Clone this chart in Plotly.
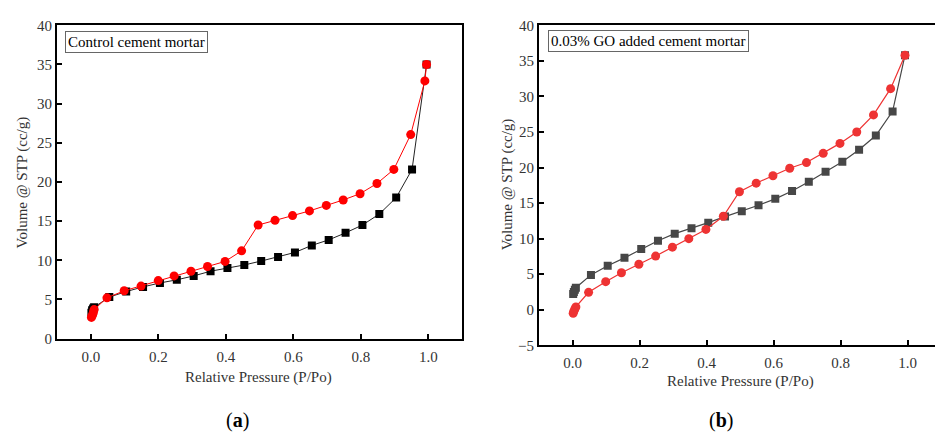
import plotly.graph_objects as go

W, H = 935, 441

# ---- data: panel (a) control cement mortar ----
xa_ads = [0.002, 0.004, 0.007, 0.010, 0.055, 0.105, 0.155, 0.205, 0.255, 0.305, 0.355, 0.405,
          0.455, 0.505, 0.555, 0.605, 0.655, 0.705, 0.755, 0.805, 0.855, 0.905, 0.952, 0.995]
ya_ads = [3.3, 3.6, 3.85, 4.0, 5.3, 6.0, 6.6, 7.1, 7.5, 8.0, 8.6, 9.0,
          9.4, 9.9, 10.4, 11.0, 11.9, 12.6, 13.5, 14.5, 15.9, 18.0, 21.6, 35.0]
xa_des = [0.995, 0.990, 0.948, 0.898, 0.848, 0.798, 0.748, 0.698, 0.648, 0.598, 0.546, 0.496, 0.447,
          0.398, 0.346, 0.297, 0.247, 0.200, 0.149, 0.099, 0.048, 0.010, 0.008, 0.006, 0.004, 0.002]
ya_des = [35.0, 32.9, 26.05, 21.6, 19.8, 18.5, 17.7, 17.0, 16.3, 15.7, 15.1, 14.5, 11.2,
          9.85, 9.2, 8.6, 8.0, 7.4, 6.7, 6.1, 5.2, 3.7, 3.4, 3.1, 2.9, 2.7]

# ---- data: panel (b) 0.03% GO added cement mortar ----
xb_ads = [0.002, 0.004, 0.007, 0.010, 0.055, 0.105, 0.155, 0.205, 0.255, 0.305, 0.355, 0.405,
          0.455, 0.505, 0.555, 0.605, 0.655, 0.705, 0.755, 0.805, 0.855, 0.905, 0.955, 0.992]
yb_ads = [2.2, 2.5, 2.8, 3.1, 4.9, 6.2, 7.3, 8.55, 9.7, 10.7, 11.45, 12.25,
          13.1, 13.85, 14.7, 15.6, 16.7, 18.0, 19.4, 20.8, 22.5, 24.5, 27.9, 35.8]
xb_des = [0.992, 0.949, 0.898, 0.848, 0.798, 0.748, 0.698, 0.648, 0.598, 0.548, 0.498, 0.450,
          0.398, 0.347, 0.298, 0.248, 0.198, 0.146, 0.099, 0.048, 0.010, 0.007, 0.004, 0.002]
yb_des = [35.8, 31.1, 27.4, 25.0, 23.4, 22.0, 20.7, 19.9, 18.85, 17.8, 16.6, 13.15,
          11.3, 10.0, 8.8, 7.55, 6.4, 5.2, 3.95, 2.45, 0.4, 0.1, -0.2, -0.5]

xticks = [0.0, 0.2, 0.4, 0.6, 0.8, 1.0]
xticklabels = ["0.0", "0.2", "0.4", "0.6", "0.8", "1.0"]
ya_ticks = [0, 5, 10, 15, 20, 25, 30, 35, 40]
yb_ticks = [-5, 0, 5, 10, 15, 20, 25, 30, 35, 40]
yb_ticklabels = ["\u22125"] + [str(v) for v in yb_ticks[1:]]

FONT = "Liberation Serif"

def px(x):
    return x / W

def py(y):
    return 1 - y / H

fig = go.Figure()

fig.add_trace(go.Scatter(x=xa_ads, y=ya_ads, mode="lines+markers", xaxis="x", yaxis="y",
                         line=dict(color="#222222", width=1),
                         marker=dict(symbol="square", size=8, color="#000000"), showlegend=False))
fig.add_trace(go.Scatter(x=xa_des, y=ya_des, mode="lines+markers", xaxis="x", yaxis="y",
                         line=dict(color="#ff0000", width=1),
                         marker=dict(symbol="circle", size=9, color="#ff0000"), showlegend=False))
fig.add_trace(go.Scatter(x=xb_ads, y=yb_ads, mode="lines+markers", xaxis="x2", yaxis="y2",
                         line=dict(color="#474747", width=1.2),
                         marker=dict(symbol="square", size=8, color="#474747"), showlegend=False))
fig.add_trace(go.Scatter(x=xb_des, y=yb_des, mode="lines+markers", xaxis="x2", yaxis="y2",
                         line=dict(color="#ee3333", width=1.2),
                         marker=dict(symbol="circle", size=9, color="#ee3333"), showlegend=False))

axis_common = dict(showgrid=False, zeroline=False, showline=True, linecolor="#000000", linewidth=2,
                   ticks="inside", ticklen=5, tickwidth=1.5, tickcolor="#000000",
                   tickfont=dict(family=FONT, size=15, color="#333333"))

fig.update_layout(
    width=W, height=H, margin=dict(l=0, r=0, t=0, b=0),
    paper_bgcolor="white", plot_bgcolor="white",
    xaxis=dict(domain=[px(57), px(462)], range=[-0.1, 1.1], tickvals=xticks, ticktext=xticklabels,
               mirror=True, anchor="y", ticklabelstandoff=3, **axis_common),
    yaxis=dict(domain=[py(343), py(18)], range=[0, 40], tickvals=ya_ticks,
               mirror=True, anchor="x", **axis_common),
    xaxis2=dict(domain=[px(539), 1.0], range=[-0.1, 1.0815], tickvals=xticks, ticktext=xticklabels,
                mirror=True, anchor="y2", ticklabelstandoff=3, **axis_common),
    yaxis2=dict(domain=[py(350), py(18)], range=[-5, 40], tickvals=yb_ticks, ticktext=yb_ticklabels,
                mirror=False, anchor="x2", **axis_common),
)

title_font = dict(family=FONT, size=15, color="#333333")
ann = []
ann.append(dict(text="Relative Pressure (P/Po)", x=px(258), y=py(383), xref="paper", yref="paper",
                showarrow=False, font=title_font, xanchor="center", yanchor="middle"))
ann.append(dict(text="Relative Pressure (P/Po)", x=px(740), y=py(388), xref="paper", yref="paper",
                showarrow=False, font=title_font, xanchor="center", yanchor="middle"))
ann.append(dict(text="Volume @ STP (cc/g)", x=px(22), y=py(181), xref="paper", yref="paper",
                showarrow=False, font=title_font, textangle=-90, xanchor="center", yanchor="middle"))
ann.append(dict(text="Volume @ STP (cc/g)", x=px(507), y=py(183), xref="paper", yref="paper",
                showarrow=False, font=title_font, textangle=-90, xanchor="center", yanchor="middle"))
ann.append(dict(text="(<b>a</b>)", x=px(237), y=py(428), xref="paper", yref="paper",
                showarrow=False, font=dict(family=FONT, size=20, color="#000000"),
                xanchor="center", yanchor="middle"))
ann.append(dict(text="(<b>b</b>)", x=px(721), y=py(428), xref="paper", yref="paper",
                showarrow=False, font=dict(family=FONT, size=20, color="#000000"),
                xanchor="center", yanchor="middle"))
ann.append(dict(text="Control cement mortar", x=px(65), y=py(24), xref="paper", yref="paper",
                showarrow=False, font=dict(family=FONT, size=15, color="#000000"),
                xanchor="left", yanchor="top", bordercolor="#666666", borderwidth=1, borderpad=2,
                bgcolor="white"))
ann.append(dict(text="0.03% GO added cement mortar", x=px(548), y=py(23), xref="paper", yref="paper",
                showarrow=False, font=dict(family=FONT, size=15, color="#000000"),
                xanchor="left", yanchor="top", bordercolor="#666666", borderwidth=1, borderpad=2,
                bgcolor="white"))
fig.update_layout(annotations=ann)

fig.write_html("out.html")
